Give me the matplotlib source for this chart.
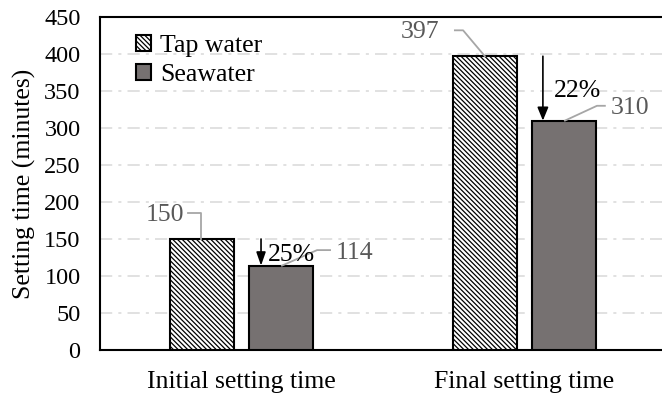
import matplotlib
matplotlib.use("Agg")
import matplotlib.pyplot as plt
import numpy as np

categories = ["Initial setting time", "Final setting time"]
tap_water = [150, 397]
seawater = [114, 310]
reductions = ["25%", "22%"]
yticks = [0, 50, 100, 150, 200, 250, 300, 350, 400, 450]

plt.rcParams['font.family'] = ['Liberation Serif', 'DejaVu Serif']
plt.rcParams['hatch.linewidth'] = 0.9

fig = plt.figure(figsize=(6.62, 3.97), dpi=100)
W, H = 662, 397
ax = fig.add_axes([100 / W, 1 - 350 / H, 566 / W, (350 - 17) / H])

x = np.arange(len(categories))
bw = 0.226
off = 0.141
ax.bar(x - off, tap_water, bw, facecolor='white', edgecolor='black', hatch='\\' * 7,
       linewidth=1.5, label='Tap water', zorder=3)
ax.bar(x + off, seawater, bw, facecolor='#767171', edgecolor='black',
       linewidth=1.5, label='Seawater', zorder=3)

FS = 18.5
ax.set_xlim(-0.5, 1.5)
ax.set_ylim(0, 450)
ax.set_yticks(yticks)
ax.set_xticks(x)
ax.set_xticklabels(categories, fontsize=FS)
ax.tick_params(axis='y', labelsize=17.5, length=0, pad=14)
ax.tick_params(axis='x', length=0, pad=15)
ax.set_ylabel("Setting time (minutes)", fontsize=FS, labelpad=6)

ax.yaxis.grid(True, color='#d9d9d9', linestyle=(0, (8, 4, 2, 4)), linewidth=1.1, zorder=0)
ax.set_axisbelow(True)
for s in ['top', 'left', 'bottom']:
    ax.spines[s].set_linewidth(1.5)
ax.spines['right'].set_visible(False)

gray = '#595959'
lc = '#a6a6a6'
# value labels with leader lines
ax.text(-0.270, 182, str(tap_water[0]), fontsize=FS, color=gray, ha='center', va='center', zorder=5)
ax.plot([-0.189, -0.143, -0.143], [185, 185, tap_water[0]], color=lc, lw=1.3, zorder=4)

ax.text(0.401, 131, str(seawater[0]), fontsize=FS, color=gray, ha='center', va='center', zorder=5)
ax.plot([0.143, 0.267, 0.313], [seawater[0], 135, 135], color=lc, lw=1.3, zorder=4)

ax.text(0.631, 430, str(tap_water[1]), fontsize=FS, color=gray, ha='center', va='center', zorder=5)
ax.plot([0.754, 0.783, 0.860], [432, 432, tap_water[1]], color=lc, lw=1.3, zorder=4)

ax.text(1.373, 327, str(seawater[1]), fontsize=FS, color=gray, ha='center', va='center', zorder=5)
ax.plot([1.143, 1.256, 1.284], [seawater[1], 330, 330], color=lc, lw=1.3, zorder=4)

# reduction arrows
arrow_x = [0.069, 1.065]
heads = ['-|>,head_length=0.8,head_width=0.28', '-|>,head_length=0.8,head_width=0.33']
for i in range(2):
    ax.annotate('', xy=(arrow_x[i], seawater[i]), xytext=(arrow_x[i], tap_water[i]),
                arrowprops=dict(arrowstyle=heads[i], color='black', lw=1.2,
                                shrinkA=0, shrinkB=0), zorder=6)
ax.text(0.094, 129, reductions[0], fontsize=FS, ha='left', va='center', zorder=6)
ax.text(1.104, 350, reductions[1], fontsize=FS, ha='left', va='center', zorder=6)

ax.legend(loc='upper left', bbox_to_anchor=(0.045, 0.977), frameon=False, fontsize=FS,
          handlelength=0.6, handleheight=0.6, handletextpad=0.35, labelspacing=0.25,
          borderaxespad=0)

fig.savefig('out.png', dpi=100)
